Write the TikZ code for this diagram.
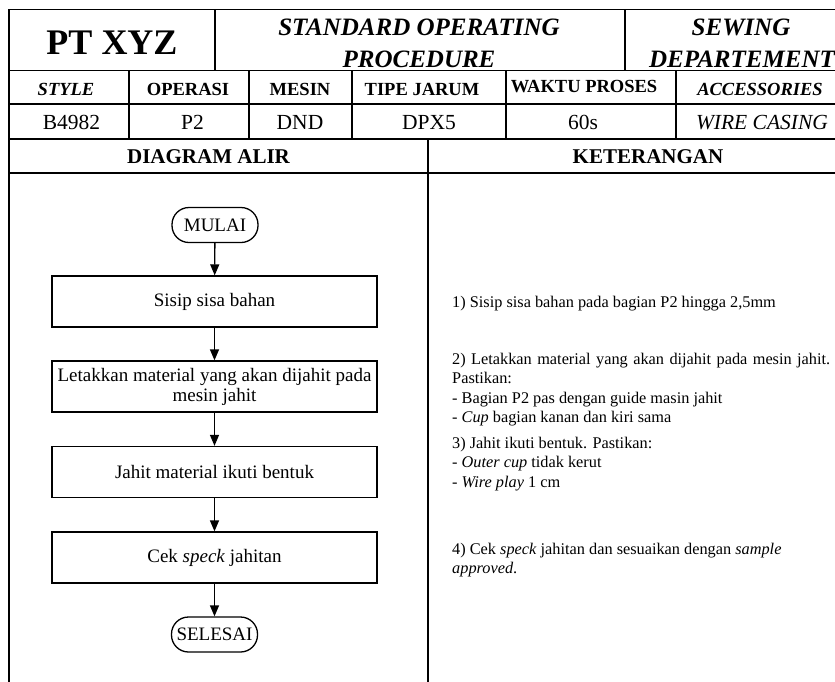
\documentclass[tikz,border=0pt]{standalone}
\usepackage{fontspec}
\setmainfont{Liberation Serif}
\usetikzlibrary{arrows.meta}
\newcommand{\fs}[1]{\fontsize{#1}{#1}\selectfont}
\begin{document}
\begin{tikzpicture}[x=1pt,y=-1pt,
  tbl/.style={line width=1.8pt,line cap=rect},
  flowbox/.style={draw,line width=1.3pt,minimum width=325pt,minimum height=51pt,inner sep=0pt,align=center,font=\fontsize{19}{20}\selectfont},
  term/.style={draw,line width=1.3pt,rounded corners=17pt,minimum width=86pt,minimum height=35pt,inner sep=0pt,font=\fontsize{19}{20}\selectfont},
  arr/.style={line width=1.3pt,-{Triangle[length=11pt,width=9pt]}},
  txt/.style={inner sep=0pt,anchor=base},
  ket/.style={inner sep=0pt,anchor=base west,font=\fontsize{16.3}{19.5}\selectfont}]
\useasboundingbox (0,0) rectangle (835,681);
\clip (0,0) rectangle (835,681);
% table frame
\draw[tbl] (9,9.5) rectangle (855,700);
\draw[tbl] (9,70.5) -- (855,70.5);
\draw[tbl] (9,104) -- (855,104);
\draw[tbl] (9,139) -- (855,139);
\draw[tbl] (9,172.7) -- (855,172.7);
\draw[tbl] (215,9.5) -- (215,70.5);
\draw[tbl] (625,9.5) -- (625,70.5);
\foreach \x in {129,249,352,506,676} \draw[tbl] (\x,70.5) -- (\x,139);
\draw[tbl] (428,139) -- (428,700);
% header row 1
\node[txt,font=\bfseries\fs{36}] (pt) at (112,54) {PT XYZ};
\node[txt,font=\bfseries\itshape\fs{25}] (sop1) at (419,35) {STANDARD OPERATING};
\node[txt,font=\bfseries\itshape\fs{25}] (sop2) at (419,67) {PROCEDURE};
\node[txt,font=\bfseries\itshape\fs{25}] (sew1) at (741,35) {SEWING};
\node[txt,font=\bfseries\itshape\fs{25}] (sew2) at (742,67) {DEPARTEMENT};
% header row 2
\node[txt,font=\bfseries\itshape\fs{18.5}] (h1) at (66,95) {STYLE};
\node[txt,font=\bfseries\fs{18.5}] (h2) at (188,95) {OPERASI};
\node[txt,font=\bfseries\fs{18.5}] (h3) at (300,95) {MESIN};
\node[txt,font=\bfseries\fs{18.5}] (h4) at (422,95) {TIPE JARUM};
\node[txt,font=\bfseries\fs{18.5}] (h5) at (584,92) {WAKTU PROSES};
\node[txt,font=\bfseries\itshape\fs{18.5}] (h6) at (760,95) {ACCESSORIES};
% row 3
\node[txt,font=\fs{21.5}] (v1) at (71.5,129) {B4982};
\node[txt,font=\fs{21.5}] (v2) at (192.5,129) {P2};
\node[txt,font=\fs{21.5}] (v3) at (300,129) {DND};
\node[txt,font=\fs{21.5}] (v4) at (429,129) {DPX5};
\node[txt,font=\fs{21.5}] (v5) at (583,129) {60s};
\node[txt,font=\itshape\fs{21.5}] (v6) at (762,129) {WIRE CASING};
% row 4
\node[txt,font=\bfseries\fs{21}] (da) at (208.5,163.3) {DIAGRAM ALIR};
\node[txt,font=\bfseries\fs{21}] (ke) at (648,163.3) {KETERANGAN};
% flowchart
\node[term] (mulai) at (215,225) {MULAI};
\node[flowbox] (b1) at (214.5,301.5) {Sisip sisa bahan};
\node[flowbox] (b2) at (214.5,386.5) {Letakkan material yang akan dijahit pada\\mesin jahit};
\node[flowbox] (b3) at (214.5,472) {Jahit material ikuti bentuk};
\node[flowbox] (b4) at (214.5,557.5) {Cek \textit{speck} jahitan};
\node[term] (selesai) at (214.5,634.5) {SELESAI};
\draw[arr] (mulai) -- (b1);
\draw[arr] (b1) -- (b2);
\draw[arr] (b2) -- (b3);
\draw[arr] (b3) -- (b4);
\draw[arr] (b4) -- (selesai);
% keterangan
\node[ket] (k1) at (452,307) {1) Sisip sisa bahan pada bagian P2 hingga 2,5mm};
\node[ket] (k2a) at (452,364) {\makebox[378pt][s]{2) Letakkan material yang akan dijahit pada mesin jahit.}};
\node[ket] (k2b) at (452,383.5) {Pastikan:};
\node[ket] (k2c) at (452,403) {- Bagian P2 pas dengan guide masin jahit};
\node[ket] (k2d) at (452,422.5) {- \textit{Cup} bagian kanan dan kiri sama};
\node[ket] (k3a) at (452,448) {3) Jahit ikuti bentuk. Pastikan:};
\node[ket] (k3b) at (452,467.5) {- \textit{Outer cup} tidak kerut};
\node[ket] (k3c) at (452,487) {- \textit{Wire play} 1 cm};
\node[ket] (k4a) at (452,554) {4) Cek \textit{speck} jahitan dan sesuaikan dengan \textit{sample}};
\node[ket] (k4b) at (452,573.5) {\textit{approved}.};
\end{tikzpicture}
\end{document}
